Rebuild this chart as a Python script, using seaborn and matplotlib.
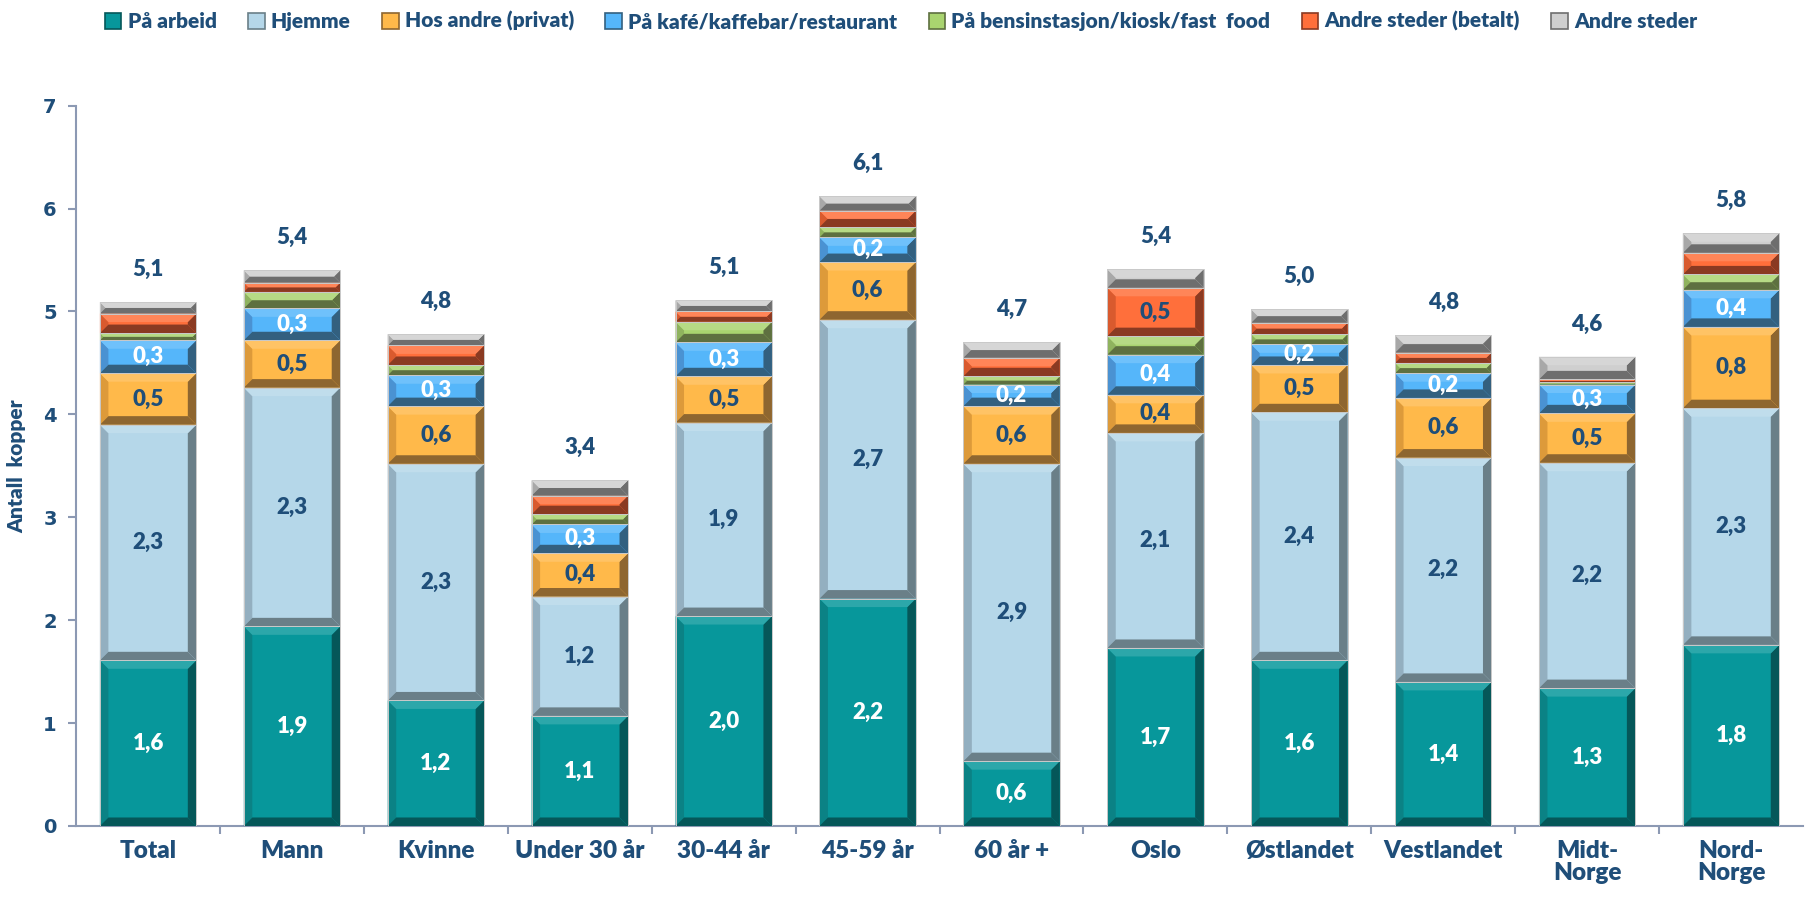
import numpy as np
import pandas as pd
import matplotlib
matplotlib.use("Agg")
import matplotlib.pyplot as plt
import seaborn as sns
from matplotlib.patches import Polygon, Patch
from matplotlib.colors import to_rgb

# ---- data (cups per day by place) ----
categories = ["Total", "Mann", "Kvinne", "Under 30 år", "30-44 år", "45-59 år",
              "60 år +", "Oslo", "Østlandet", "Vestlandet", "Midt-\nNorge", "Nord-\nNorge"]
series_names = ["På arbeid", "Hjemme", "Hos andre (privat)", "På kafé/kaffebar/restaurant",
                "På bensinstasjon/kiosk/fast  food", "Andre steder (betalt)", "Andre steder"]

paa_arbeid = [1.61, 1.94, 1.22, 1.07, 2.04, 2.21, 0.63, 1.73, 1.61, 1.40, 1.34, 1.76]
hjemme = [2.29, 2.32, 2.30, 1.16, 1.88, 2.71, 2.89, 2.09, 2.41, 2.18, 2.19, 2.30]
hos_andre = [0.50, 0.46, 0.56, 0.42, 0.45, 0.56, 0.56, 0.37, 0.46, 0.58, 0.48, 0.79]
kafe = [0.32, 0.31, 0.30, 0.28, 0.33, 0.24, 0.21, 0.39, 0.20, 0.24, 0.28, 0.36]
bensin = [0.07, 0.16, 0.10, 0.10, 0.20, 0.10, 0.08, 0.18, 0.10, 0.10, 0.02, 0.15]
andre_betalt = [0.19, 0.09, 0.19, 0.18, 0.10, 0.16, 0.18, 0.47, 0.11, 0.10, 0.03, 0.21]
andre = [0.11, 0.12, 0.11, 0.15, 0.11, 0.14, 0.15, 0.18, 0.13, 0.17, 0.22, 0.19]

layers = [paa_arbeid, hjemme, hos_andre, kafe, bensin, andre_betalt, andre]

# face colour, left side, dark shade (right/bottom), label colour (None = no label)
colors = ["#07979B", "#B5D7E9", "#FFB94A", "#55B6FA", "#A9D46F", "#FF6F3B", "#CFCFCF"]
left_c = ["#0B8285", "#93AFC0", "#DD9A3A", "#4A92D2", "#8FB35E", "#D95A2E", "#A8A8A8"]
dark_c = ["#055759", "#6A7F88", "#8E6630", "#33607F", "#5E7040", "#8A3A22", "#6E6E6E"]
label_colors = ["white", "#1F4E79", "#1F4E79", "white", None, "#1F4E79", None]

navy = "#1F4E79"

df = pd.DataFrame({name: vals for name, vals in zip(series_names, layers)})
df["kategori"] = categories
cum = df[series_names].cumsum(axis=1)

sns.set_style("white")
plt.rcParams["font.family"] = ["Lato", "DejaVu Sans"]

fig = plt.figure(figsize=(18.13, 9.13), dpi=100)
ax = fig.add_axes([0.042, 0.0953, 0.9525, 0.789])

bar_w = 0.67
# draw cumulative bars back to front so lower layers cover upper ones
for k in range(len(series_names) - 1, -1, -1):
    sns.barplot(x=df["kategori"], y=cum[series_names[k]], color=colors[k], width=bar_w,
                ax=ax, edgecolor="none", linewidth=0, saturation=1)

ax.set_ylim(0, 7)
ax.set_xlim(-0.5, len(categories) - 0.5)

# bevel size in data units (about 8 px)
fig.canvas.draw()
bb = ax.get_window_extent()
px = 8.5
dx = px * (len(categories)) / bb.width
dy = px * 7 / bb.height

for i in range(len(categories)):
    x0, x1 = i - bar_w / 2, i + bar_w / 2
    for k, name in enumerate(series_names):
        y1 = cum[name].iloc[i]
        y0 = y1 - df[name].iloc[i]
        h = y1 - y0
        b = min(dy, h / 2)
        bx = dx * b / dy
        face = colors[k]
        ax.add_patch(Polygon([(x0, y0), (x1, y0), (x1, y1), (x0, y1)], closed=True,
                             facecolor=face, edgecolor="none", zorder=3))
        ax.add_patch(Polygon([(x0, y0), (x0 + bx, y0 + b), (x0 + bx, y1 - b), (x0, y1)],
                             closed=True, facecolor=left_c[k], edgecolor="none", zorder=4))
        ax.add_patch(Polygon([(x1, y0), (x1 - bx, y0 + b), (x1 - bx, y1 - b), (x1, y1)],
                             closed=True, facecolor=dark_c[k], edgecolor="none", zorder=4))
        ax.add_patch(Polygon([(x0, y0), (x1, y0), (x1 - bx, y0 + b), (x0 + bx, y0 + b)],
                             closed=True, facecolor=dark_c[k], edgecolor="none", zorder=4))
        top_rgb = tuple(min(1, c * 0.85 + 0.15) for c in to_rgb(face))
        ax.add_patch(Polygon([(x0, y1), (x1, y1), (x1 - bx, y1 - b), (x0 + bx, y1 - b)],
                             closed=True, facecolor=top_rgb, edgecolor="none", zorder=4))
        ax.add_patch(Polygon([(x0, y0), (x1, y0), (x1, y1), (x0, y1)], closed=True,
                             facecolor="none", edgecolor="#C9C9C9", linewidth=0.7, zorder=5))

        lc = label_colors[k]
        v = df[name].iloc[i]
        if lc is not None and (k < 4 or v >= 0.4):
            ax.text(i, (y0 + y1) / 2, f"{v:.1f}".replace(".", ","), ha="center", va="center",
                    color=lc, fontsize=16, fontweight="heavy", zorder=6)

    total = cum[series_names[-1]].iloc[i]
    ax.annotate(f"{total:.1f}".replace(".", ","), (i, total), xytext=(0, 22),
                textcoords="offset pixels", ha="center", va="bottom",
                color=navy, fontsize=16, fontweight="heavy")

# axes styling
for s in ["top", "right"]:
    ax.spines[s].set_visible(False)
for s in ["left", "bottom"]:
    ax.spines[s].set_color("#8C99B3")
    ax.spines[s].set_linewidth(1.5)

ax.set_yticks(range(0, 8))
ax.set_yticklabels([str(v) for v in range(0, 8)], fontsize=14, fontweight="bold",
                   color=navy, family=["DejaVu Sans"])
ax.tick_params(axis="y", direction="out", length=6, width=1.5, color="#8C99B3", pad=8, left=True)

ax.set_xticks(range(len(categories)))
ax.set_xticklabels(categories, fontsize=17.5, fontweight="heavy", color=navy, linespacing=1.0)
ax.set_xticks(np.arange(0.5, len(categories) - 0.5, 1), minor=True)
ax.tick_params(axis="x", which="major", length=0, pad=10)
ax.tick_params(axis="x", which="minor", direction="out", length=6, width=1.5,
               color="#8C99B3", bottom=True)

ax.set_xlabel("")
ax.set_ylabel("Antall  kopper", fontsize=15, fontweight="heavy", color=navy, labelpad=12)

# legend
handles = [Patch(facecolor=c, edgecolor=d, linewidth=1.2) for c, d in zip(colors, dark_c)]
fig.legend(handles, series_names, loc="upper center", ncol=7, frameon=False,
           bbox_to_anchor=(0.497, 1.008), handlelength=0.8, handleheight=0.8,
           handletextpad=0.3, columnspacing=1.5, labelcolor=navy,
           prop={"weight": "heavy", "size": 15})

fig.savefig("out.png", dpi=100)
